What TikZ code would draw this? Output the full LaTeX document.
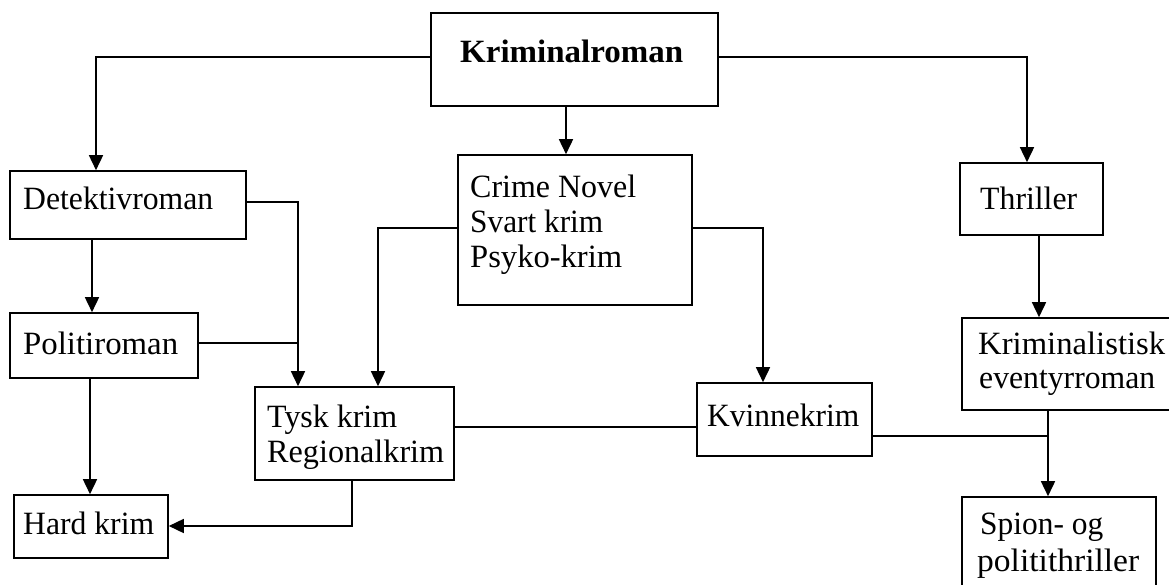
\documentclass[tikz,border=0pt]{standalone}
\usepackage{fontspec}
\usepackage{graphicx}
\setmainfont{Liberation Serif}
\usetikzlibrary{arrows.meta}
\newdimen\fitdim
\newcommand\fitw[2]{\setbox0=\hbox{#2}\fitdim=\wd0\pgfmathsetmacro\fitratio{#1/\fitdim}\scalebox{\fitratio}[1]{\copy0}}
\tikzset{
  box/.style={draw, line width=1.6pt, inner sep=0pt},
  txt/.style={anchor=base west, inner sep=0pt, font=\fontsize{32.5}{36}\selectfont},
  conn/.style={line width=1.6pt},
  arr/.style={conn, -{Triangle[length=15pt,width=14pt]}}
}
\begin{document}
\begin{tikzpicture}[x=1pt,y=-1pt]
\useasboundingbox (0,0) rectangle (1169,585);
% boxes
\node[box, minimum width=287pt, minimum height=93pt] (krim) at (574.5,59.5) {};
\node[box, minimum width=236pt, minimum height=68pt] (det) at (128,205) {};
\node[box, minimum width=234pt, minimum height=150pt] (crime) at (575,230) {};
\node[box, minimum width=143pt, minimum height=72pt] (thr) at (1031.5,199) {};
\node[box, minimum width=188pt, minimum height=65pt] (pol) at (104,345.5) {};
\node[box, minimum width=213pt, minimum height=92pt] (kea) at (1068.5,364) {};
\node[box, minimum width=199pt, minimum height=93pt] (tysk) at (354.5,433.5) {};
\node[box, minimum width=175pt, minimum height=73pt] (kvi) at (784.5,419.5) {};
\node[box, minimum width=154pt, minimum height=63pt] (hard) at (91,526.5) {};
\node[box, minimum width=194pt, minimum height=103pt] (spion) at (1059,548.5) {};
% texts
\node[txt] (tkrim) at (460,63) {\fitw{223}{\bfseries Kriminalroman}};
\node[txt] (tdet) at (23,210) {\fitw{190}{Detektivroman}};
\node[txt] (tcrimeA) at (470,198) {\fitw{166}{Crime Novel}};
\node[txt] (tcrimeB) at (470,233) {\fitw{133}{Svart krim}};
\node[txt] (tcrimeC) at (470,268) {\fitw{152}{Psyko-krim}};
\node[txt] (tthr) at (980,210) {\fitw{97}{Thriller}};
\node[txt] (tpol) at (23,354) {\fitw{155}{Politiroman}};
\node[txt] (tkeaA) at (978,354) {\fitw{187}{Kriminalistisk}};
\node[txt] (tkeaB) at (979,388) {\fitw{176}{eventyrroman}};
\node[txt] (ttyskA) at (267,427) {\fitw{130}{Tysk krim}};
\node[txt] (ttyskB) at (267,462) {\fitw{177}{Regionalkrim}};
\node[txt] (tkvi) at (707,426) {\fitw{152}{Kvinnekrim}};
\node[txt] (thard) at (23,534) {\fitw{131}{Hard krim}};
\node[txt] (tspionA) at (980,534) {\fitw{123}{Spion- og}};
\node[txt] (tspionB) at (977,571) {\fitw{162}{politithriller}};
% bend coordinates
\coordinate (c1) at (96,57);
\coordinate (c2) at (1027,57);
\coordinate (c3) at (566,0);
\coordinate (c4) at (92,0);
\coordinate (c5) at (298,202);
\coordinate (c6) at (298,343);
\coordinate (c7) at (378,228);
\coordinate (c8) at (763,228);
\coordinate (c9) at (1039,0);
\coordinate (c10) at (90,0);
\coordinate (c11) at (0,427);
\coordinate (c12) at (352,526);
\coordinate (c13) at (1048,436);
% connectors
\draw[arr] (krim.west |- c1) -| (det.north -| c1);
\draw[arr] (krim.east |- c2) -| (thr.north -| c2);
\draw[arr] (krim.south -| c3) -- (crime.north -| c3);
\draw[arr] (det.south -| c4) -- (pol.north -| c4);
\draw[arr] (det.east |- c5) -| (tysk.north -| c5);
\draw[conn] (pol.east |- c6) -- (c6);
\draw[arr] (crime.west |- c7) -| (tysk.north -| c7);
\draw[arr] (crime.east |- c8) -| (kvi.north -| c8);
\draw[arr] (thr.south -| c9) -- (kea.north -| c9);
\draw[arr] (pol.south -| c10) -- (hard.north -| c10);
\draw[conn] (tysk.east |- c11) -- (kvi.west |- c11);
\draw[arr] (tysk.south -| c12) |- (hard.east |- c12);
\draw[arr] (kea.south -| c13) -- (spion.north -| c13);
\draw[conn] (kvi.east |- c13) -- (c13);
\end{tikzpicture}
\end{document}
